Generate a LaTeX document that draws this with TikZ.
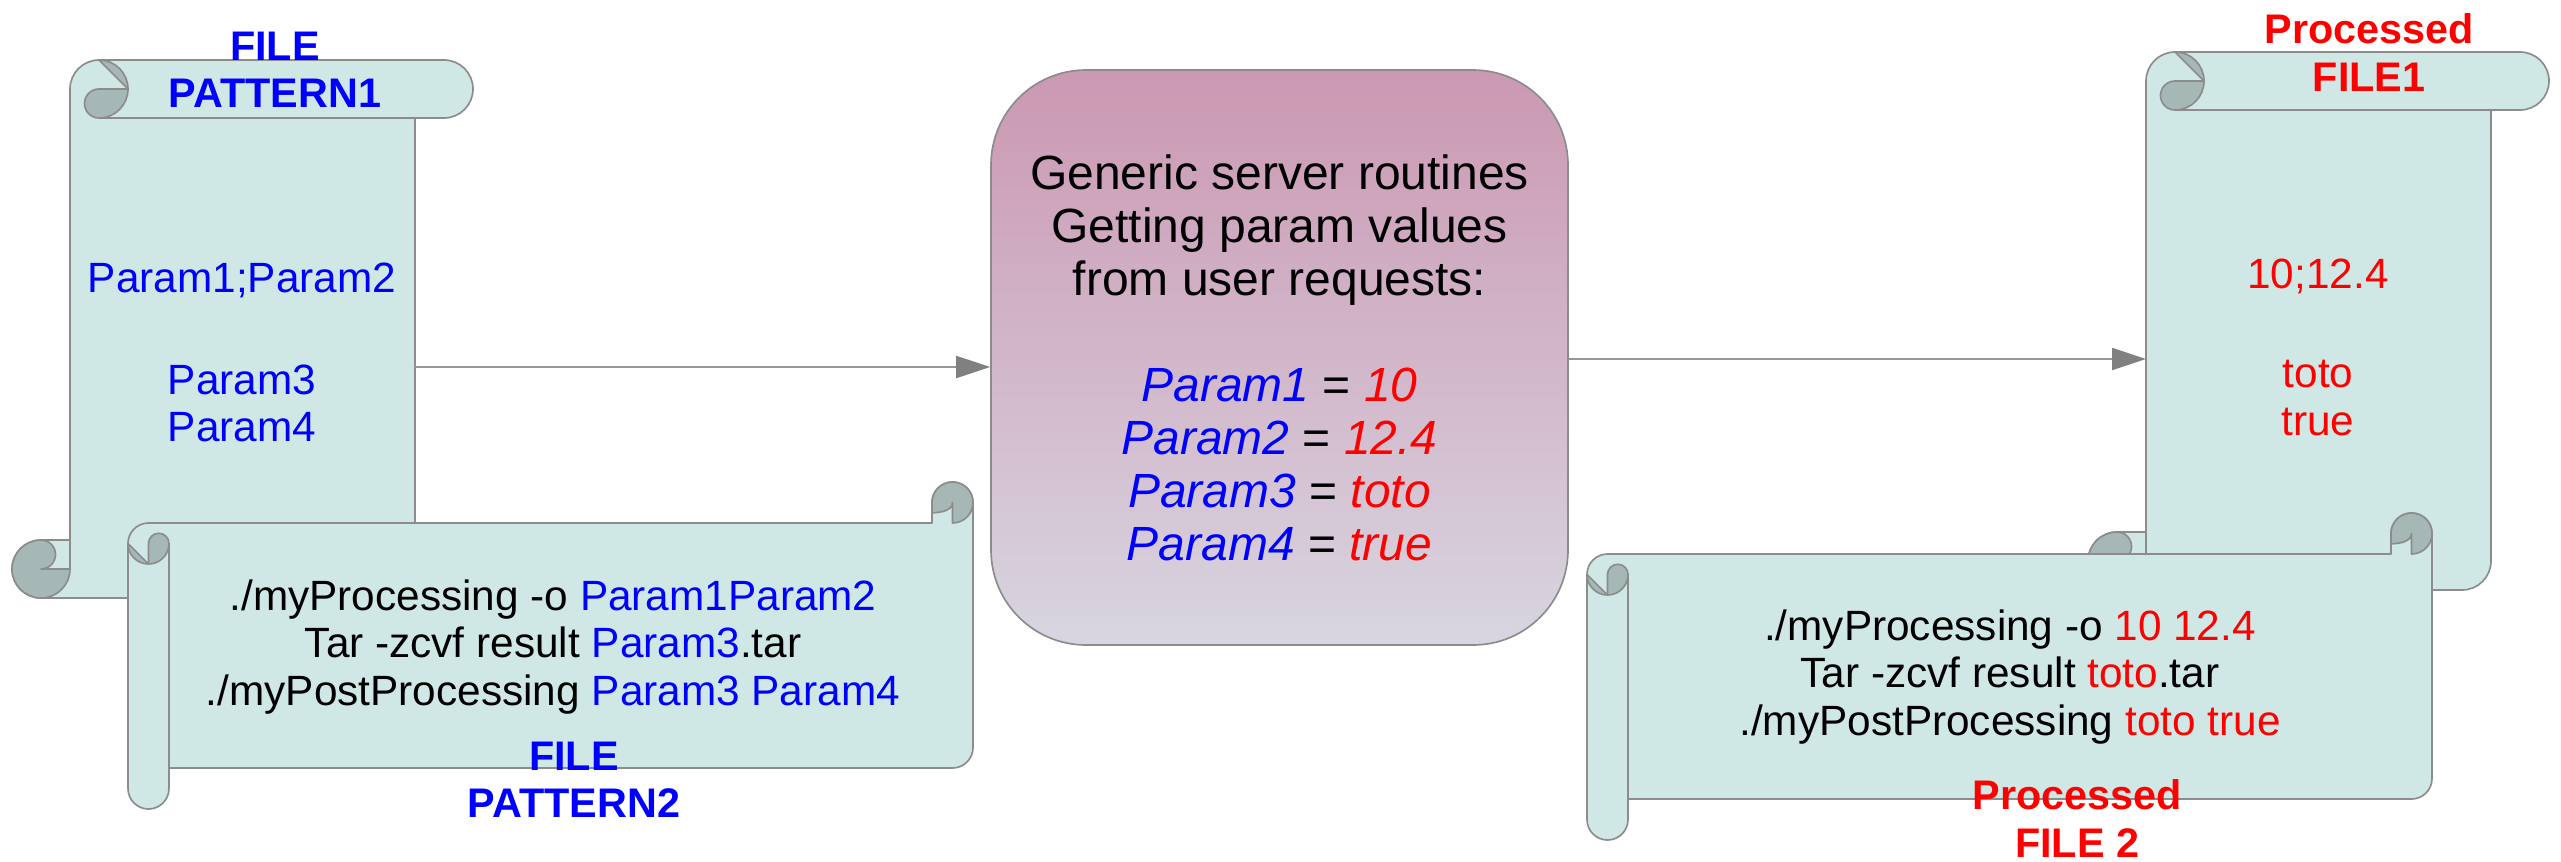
\documentclass[tikz,border=0pt]{standalone}
\usepackage{fontspec}
\setmainfont{Liberation Sans}
\usepackage{tikz}
\usetikzlibrary{arrows.meta}

\definecolor{scrollteal}{RGB}{207,231,229}
\definecolor{curlgray}{RGB}{166,184,182}
\definecolor{edgegray}{RGB}{140,140,140}
\definecolor{flowgray}{RGB}{150,150,150}
\definecolor{headgray}{RGB}{128,128,128}
\definecolor{boxtop}{RGB}{203,152,178}
\definecolor{boxbottom}{RGB}{216,213,225}
\definecolor{parblue}{RGB}{0,0,255}
\definecolor{valred}{RGB}{255,0,0}

\begin{document}
\begin{tikzpicture}[x=0.3pt,y=0.3pt,yscale=-1,xscale=1,
    scroll/.style={draw=edgegray,line width=0.5pt,fill=scrollteal,line join=round},
    curl/.style={draw=edgegray,line width=0.5pt,fill=curlgray,line join=round},
    rim/.style={draw=edgegray,line width=0.5pt},
    flow/.style={draw=flowgray,line width=0.6pt,-{Triangle[length=10.2pt,width=6.6pt,color=headgray]}},
    routinebox/.style={draw=edgegray,line width=0.5pt,rounded corners=28.5pt,top color=boxtop,bottom color=boxbottom,
        minimum width=173.1pt,minimum height=172.5pt,align=center,font=\fontsize{14.4}{15.9}\selectfont},
    scrolltext/.style={align=center,font=\fontsize{12.7}{14.25}\selectfont},
    filetitle/.style={align=center,font=\fontsize{12.4}{14.2}\selectfont\bfseries}]
    \useasboundingbox (0,0) rectangle (2561,861);

    %Shape: Vertical Scroll [FILE PATTERN1]
    \begin{scope}[shift={(12,60)}]
    \draw[scroll] (58,29) arc[start angle=180,end angle=270,radius=29] -- (432,0) arc[start angle=270,end angle=450,radius=29] -- (403,58) -- (403,509) arc[start angle=0,end angle=90,radius=29] -- (29,538) arc[start angle=90,end angle=270,radius=29] -- (58,480) -- cycle ;
    \draw[rim] (87,58) -- (403,58) ;
    \draw[rim] (58,480) -- (58,509) ;
    \draw[curl] (87,29) arc[start angle=270,end angle=90,radius=14.5] arc[start angle=90,end angle=0,radius=29] -- cycle ;
    \draw[curl] (87,0) arc[start angle=270,end angle=360,radius=29] -- cycle ;
    \draw[curl] (29,480) arc[start angle=270,end angle=0,radius=29] -- (29,509) arc[start angle=90,end angle=-90,radius=14.5] -- cycle ;
    \end{scope}

    %Shape: Horizontal Scroll [FILE PATTERN2]
    \begin{scope}[shift={(128,482)}]
    \draw[scroll] (0,61.5) arc[start angle=180,end angle=270,radius=20.5] -- (804,41) -- (804,20.5) arc[start angle=180,end angle=360,radius=20.5] -- (845,265.5) arc[start angle=0,end angle=90,radius=20.5] -- (41,286) -- (41,306.5) arc[start angle=0,end angle=180,radius=20.5] -- cycle ;
    \draw[rim] (41,61.5) -- (41,286) ;
    \draw[curl] (20.5,61.5) arc[start angle=180,end angle=360,radius=10.25] arc[start angle=0,end angle=90,radius=20.5] -- cycle ;
    \draw[curl] (0,61.5) arc[start angle=180,end angle=90,radius=20.5] -- cycle ;
    \draw[curl] (824.5,20.5) .. controls (824.5,28) and (814,30.75) .. (804,30.75) -- (804,20.5) arc[start angle=180,end angle=450,radius=20.5] -- cycle ;
    \end{scope}

    %Shape: Vertical Scroll [Processed FILE1]
    \begin{scope}[shift={(2088,52)}]
    \draw[scroll] (58,29) arc[start angle=180,end angle=270,radius=29] -- (432,0) arc[start angle=270,end angle=450,radius=29] -- (403,58) -- (403,509) arc[start angle=0,end angle=90,radius=29] -- (29,538) arc[start angle=90,end angle=270,radius=29] -- (58,480) -- cycle ;
    \draw[rim] (87,58) -- (403,58) ;
    \draw[rim] (58,480) -- (58,509) ;
    \draw[curl] (87,29) arc[start angle=270,end angle=90,radius=14.5] arc[start angle=90,end angle=0,radius=29] -- cycle ;
    \draw[curl] (87,0) arc[start angle=270,end angle=360,radius=29] -- cycle ;
    \draw[curl] (29,480) arc[start angle=270,end angle=0,radius=29] -- (29,509) arc[start angle=90,end angle=-90,radius=14.5] -- cycle ;
    \end{scope}

    %Shape: Horizontal Scroll [Processed FILE 2]
    \begin{scope}[shift={(1587,513)}]
    \draw[scroll] (0,61.5) arc[start angle=180,end angle=270,radius=20.5] -- (804,41) -- (804,20.5) arc[start angle=180,end angle=360,radius=20.5] -- (845,265.5) arc[start angle=0,end angle=90,radius=20.5] -- (41,286) -- (41,306.5) arc[start angle=0,end angle=180,radius=20.5] -- cycle ;
    \draw[rim] (41,61.5) -- (41,286) ;
    \draw[curl] (20.5,61.5) arc[start angle=180,end angle=360,radius=10.25] arc[start angle=0,end angle=90,radius=20.5] -- cycle ;
    \draw[curl] (0,61.5) arc[start angle=180,end angle=90,radius=20.5] -- cycle ;
    \draw[curl] (824.5,20.5) .. controls (824.5,28) and (814,30.75) .. (804,30.75) -- (804,20.5) arc[start angle=180,end angle=450,radius=20.5] -- cycle ;
    \end{scope}

    %Rounded Rect
    \node (routines) [routinebox] at (1279.5,357.5) {Generic server routines\\Getting param values\\from user requests:\\[15.9pt]
        \textcolor{parblue}{\textit{Param1}} = \textcolor{valred}{\textit{10}}\\
        \textcolor{parblue}{\textit{Param2}} = \textcolor{valred}{\textit{12.4}}\\
        \textcolor{parblue}{\textit{Param3}} = \textcolor{valred}{\textit{toto}}\\
        \textcolor{parblue}{\textit{Param4}} = \textcolor{valred}{\textit{true}}};

    % Text Node
    \node (pat1title) [filetitle,text=parblue] at (275,70) {FILE\\PATTERN1};
    % Text Node
    \node (pat1vars) [scrolltext,text=parblue] at (242,280) {Param1;Param2};
    % Text Node
    \node (pat1more) [scrolltext,text=parblue] at (242,403.5) {Param3\\Param4};
    % Text Node
    \node (pat2cmds) [scrolltext] at (553,647) {./myProcessing -o \textcolor{parblue}{Param1Param2}\\Tar -zcvf result \textcolor{parblue}{Param3}.tar\\./myPostProcessing \textcolor{parblue}{Param3 Param4}};
    % Text Node
    \node (pat2title) [filetitle,text=parblue] at (574,780) {FILE\\PATTERN2};
    % Text Node
    \node (proc1title) [filetitle,text=valred] at (2369,52.5) {Processed\\FILE1};
    % Text Node
    \node (proc1vals) [scrolltext,text=valred] at (2318,276) {10;12.4};
    % Text Node
    \node (proc1more) [scrolltext,text=valred] at (2318,398) {toto\\true};
    % Text Node
    \node (proc2cmds) [scrolltext] at (2010,677) {./myProcessing -o \textcolor{valred}{10 12.4}\\Tar -zcvf result \textcolor{valred}{toto}.tar\\./myPostProcessing \textcolor{valred}{toto true}};
    % Text Node
    \node (proc2title) [filetitle,text=valred] at (2077,818.5) {Processed\\FILE 2};

    %Straight Lines
    \coordinate (pat1out) at (415,367);
    \coordinate (proc1in) at (2146,359);
    \draw[flow] (pat1out) -- (pat1out -| routines.west) ;
    \draw[flow] (routines.east |- proc1in) -- (proc1in) ;
\end{tikzpicture}
\end{document}
